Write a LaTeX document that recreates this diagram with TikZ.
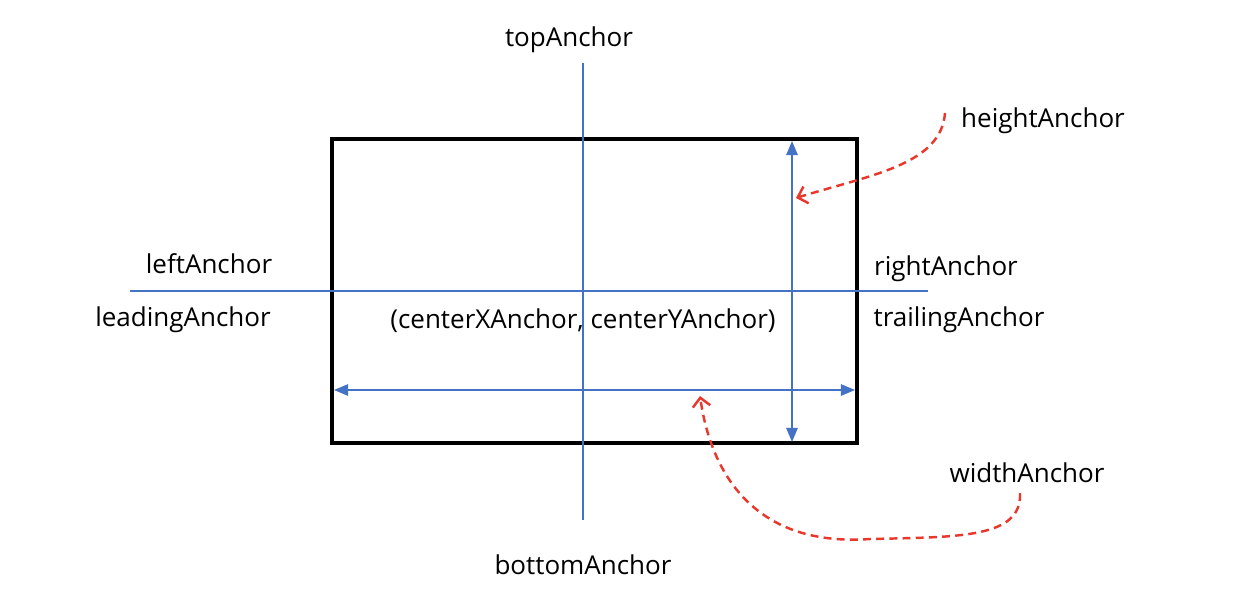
\documentclass[tikz,border=0pt]{standalone}
\usepackage{fontspec}
\setmainfont{Open Sans}
\usetikzlibrary{arrows.meta,calc,positioning}
\definecolor{guideblue}{RGB}{68,114,196}
\definecolor{noteRed}{RGB}{232,56,44}
\tikzset{
  >=stealth,
  line cap=round,
  line join=round,
  px/.style={x={(0.02cm,0cm)}, y={(0cm,-0.02cm)}},
  frame/.style={draw=black, line width=1.9pt, line cap=butt},
  guide/.style={draw=guideblue, line width=0.8pt},
  dimarrow/.style={guide, {Triangle[length=8pt,width=6.5pt]}-{Triangle[length=8pt,width=6.5pt]}},
  notearrow/.style={draw=noteRed, line width=1.4pt, line cap=butt, dash pattern=on 4.5pt off 3pt, -{Straight Barb[length=5pt,width=10pt]}},
  label/.style={inner sep=1pt, yshift=-1.7pt, font=\fontsize{14.8}{17}\selectfont}
}
\begin{document}
\begin{tikzpicture}[px]
  \useasboundingbox (0,0) rectangle (1250,598);

  % view frame
  \coordinate (TL) at (332,139);
  \coordinate (BR) at (857,443);
  \draw[frame] (TL) rectangle (BR);

  % center guides
  \coordinate (vTop) at (583,63);
  \coordinate (vBot) at (583,520);
  \coordinate (hLeft) at (130,291);
  \coordinate (hRight) at (928,291);
  \draw[guide] (vTop)--(vBot);
  \draw[guide] (hLeft)--(hRight);

  % dimensions
  \coordinate (hTop) at (792,141);
  \coordinate (hBot) at (792,442);
  \coordinate (wLeft) at (334,390);
  \coordinate (wRight) at (855,390);
  \draw[dimarrow] (hTop)--(hBot);
  \draw[dimarrow] (wLeft)--(wRight);

  % labels
  \node[label] (top) at (569,37) {topAnchor};
  \node[label] (bottom) at (583,562) {bottomAnchor};
  \node[label] (left) at (209,261) {leftAnchor};
  \node[label] (leading) at (183,317) {leadingAnchor};
  \node[label] (right) at (946,266) {rightAnchor};
  \node[label] (trailing) at (959,317) {trailingAnchor};
  \node[label] (center) at (583,318) {(centerXAnchor, centerYAnchor)};
  \node[label] (height) at (1043,118) {heightAnchor};
  \node[label] (width) at (1027,470) {widthAnchor};

  % callouts
  \coordinate (hStart) at (945,113);
  \coordinate (hTip) at (796,198);
  \coordinate (wStart) at (1020,493);
  \coordinate (wTip) at (700,396);
  \draw[notearrow] (hStart)
    .. controls (941,165) and (870,175) .. (hTip);
  \draw[notearrow] (wStart)
    .. controls (1022,538) and (960,537) .. (870,539)
    .. controls (760,547) and (712,480) .. (wTip);
\end{tikzpicture}
\end{document}
